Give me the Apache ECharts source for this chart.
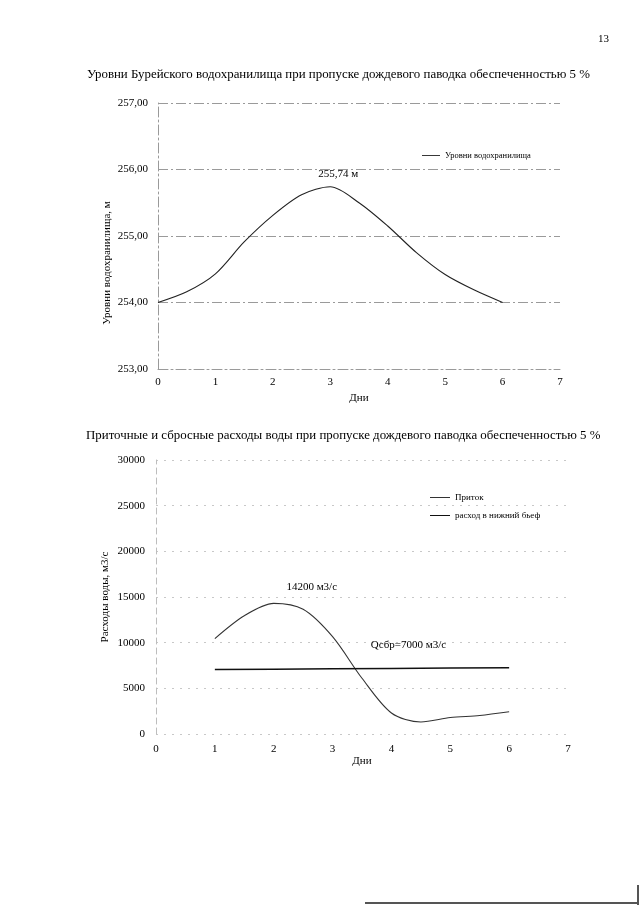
<!DOCTYPE html>
<html><head><meta charset="utf-8">
<script src="https://cdn.jsdelivr.net/npm/echarts@6/dist/echarts.min.js"></script>
<style>html,body{margin:0;padding:0;background:#fff}#c{width:640px;height:905px}</style>
</head><body><div id="c"></div>
<script>
// Top chart: reservoir levels
const levelDays = [0, 0.5, 1, 1.5, 2, 2.5, 3, 3.5, 4, 4.5, 5, 5.5, 6];
const levelValues = [254.00, 254.16, 254.43, 254.91, 255.31, 255.62, 255.74, 255.50, 255.15, 254.75, 254.42, 254.19, 254.00];
const levelName = 'Уровни водохранилища';
const levelPeakLabel = '255,74 м';

// Bottom chart: inflow and release
const flowDays = [1, 1.5, 2, 2.5, 3, 3.5, 4, 4.5, 5, 5.5, 6];
const inflowValues = [10450, 12950, 14300, 13650, 10650, 6100, 2300, 1320, 1800, 2030, 2440];
const releaseDays = [1, 2, 3, 4, 5, 6];
const releaseValues = [7050, 7100, 7150, 7180, 7220, 7250];
const inflowName = 'Приток';
const releaseName = 'расход в нижний бьеф';
const inflowPeakLabel = '14200 м3/с';
const releaseLabel = 'Qсбр=7000 м3/с';

const serif = 'Liberation Serif';
const gridLine = {lineStyle: {color: '#9a9a9a', width: 1, type: [10, 3, 2, 3]}};
const gridLine2 = {lineStyle: {color: '#c8c8c8', width: 1, type: [2, 6]}};
const lineIcon = 'path://M0,0L40,0L40,2L0,2Z';

const chart = echarts.init(document.getElementById('c'));
chart.setOption({
  animation: false,
  textStyle: {fontFamily: serif},
  title: [
    {text: 'Уровни Бурейского водохранилища при пропуске дождевого паводка обеспеченностью 5 %', left: 82, top: 63,
     textStyle: {fontFamily: serif, fontSize: 12.9, fontWeight: 'normal', color: '#000'}},
    {text: 'Приточные и сбросные расходы воды при пропуске дождевого паводка обеспеченностью 5 %', left: 81, top: 424,
     textStyle: {fontFamily: serif, fontSize: 12.9, fontWeight: 'normal', color: '#000'}},
    {text: '13', left: 593, top: 29, textStyle: {fontFamily: serif, fontSize: 11, fontWeight: 'normal', color: '#000'}}
  ],
  legend: [
    {data: [{name: levelName, icon: lineIcon}], left: 417, top: 146, itemWidth: 18, itemHeight: 1.2, itemGap: 4,
     textStyle: {fontFamily: serif, fontSize: 8.5, color: '#000'}},
    {data: [{name: inflowName, icon: lineIcon}, {name: releaseName, icon: lineIcon}], left: 425, top: 488, orient: 'vertical',
     itemWidth: 20, itemHeight: 1.5, itemGap: 9,
     textStyle: {fontFamily: serif, fontSize: 9, color: '#000'}}
  ],
  grid: [
    {left: 158, right: 80, top: 103, bottom: 536},
    {left: 156, right: 72, top: 460, bottom: 171}
  ],
  xAxis: [
    {type: 'value', gridIndex: 0, min: 0, max: 7, interval: 1, name: 'Дни', nameLocation: 'middle', nameGap: 24,
     nameTextStyle: {fontFamily: serif, fontSize: 11, color: '#000'},
     axisLine: {lineStyle: {color: '#9a9a9a', type: [10, 3, 2, 3]}}, axisTick: {show: false},
     axisLabel: {fontFamily: serif, fontSize: 11, color: '#000', margin: 8}, splitLine: {show: false}},
    {type: 'value', gridIndex: 1, min: 0, max: 7, interval: 1, name: 'Дни', nameLocation: 'middle', nameGap: 22,
     nameTextStyle: {fontFamily: serif, fontSize: 11, color: '#000'},
     axisLine: {show: false}, axisTick: {show: false},
     axisLabel: {fontFamily: serif, fontSize: 11, color: '#000', margin: 10}, splitLine: {show: false}}
  ],
  yAxis: [
    {type: 'value', gridIndex: 0, min: 253, max: 257, interval: 1, name: 'Уровни водохранилища, м', nameLocation: 'middle', nameGap: 45,
     nameMoveOverlap: false,
     nameTextStyle: {fontFamily: serif, fontSize: 11, color: '#000', padding: [0, 54, 0, 0]},
     axisLine: {show: true, lineStyle: {color: '#9a9a9a', type: [10, 3, 2, 3]}}, axisTick: {show: false},
     axisLabel: {fontFamily: serif, fontSize: 11, color: '#000', margin: 10,
       formatter: v => v.toFixed(2).replace('.', ',')},
     splitLine: gridLine},
    {type: 'value', gridIndex: 1, min: 0, max: 30000, interval: 5000, name: 'Расходы воды, м3/с', nameLocation: 'middle', nameGap: 45,
     nameMoveOverlap: false,
     nameTextStyle: {fontFamily: serif, fontSize: 11, color: '#000'},
     axisLine: {show: true, lineStyle: {color: '#bdbdbd', type: [6, 4]}}, axisTick: {show: false},
     axisLabel: {fontFamily: serif, fontSize: 11, color: '#000', margin: 11, formatter: v => String(v)},
     splitLine: gridLine2}
  ],
  series: [
    {name: levelName, type: 'line', xAxisIndex: 0, yAxisIndex: 0, smooth: 0.3, symbol: 'none',
     lineStyle: {color: '#222', width: 1.1},
     itemStyle: {color: '#222'},
     data: levelDays.map((d, i) => [d, levelValues[i]]),
     markPoint: {symbol: 'circle', symbolSize: 0,
       data: [{type: 'max', label: {show: true, formatter: levelPeakLabel, position: 'top', offset: [8, -2],
         fontFamily: serif, fontSize: 11, color: '#000'}}]}},
    {name: inflowName, type: 'line', xAxisIndex: 1, yAxisIndex: 1, smooth: 0.3, symbol: 'none',
     lineStyle: {color: '#333', width: 1.1},
     itemStyle: {color: '#333'},
     data: flowDays.map((d, i) => [d, inflowValues[i]]),
     markPoint: {symbol: 'circle', symbolSize: 0,
       data: [{type: 'max', label: {show: true, formatter: inflowPeakLabel, position: 'top', offset: [38, -6],
         fontFamily: serif, fontSize: 11, color: '#000'}}]}},
    {name: releaseName, type: 'line', xAxisIndex: 1, yAxisIndex: 1, symbol: 'none',
     lineStyle: {color: '#111', width: 1.5},
     itemStyle: {color: '#111'},
     data: releaseDays.map((d, i) => [d, releaseValues[i]]),
     markPoint: {symbol: 'circle', symbolSize: 0,
       data: [{coord: [releaseDays[3], releaseValues[3]], label: {show: true, formatter: releaseLabel, position: 'top', offset: [17, -13],
         fontFamily: serif, fontSize: 11, color: '#000'}}]}}
  ],
  graphic: [
    {type: 'line', shape: {x1: 365, y1: 903, x2: 637, y2: 903}, style: {stroke: '#555', lineWidth: 2}},
    {type: 'line', shape: {x1: 638, y1: 885, x2: 638, y2: 905}, style: {stroke: '#555', lineWidth: 2}}
  ]
});
</script>
</body></html>
